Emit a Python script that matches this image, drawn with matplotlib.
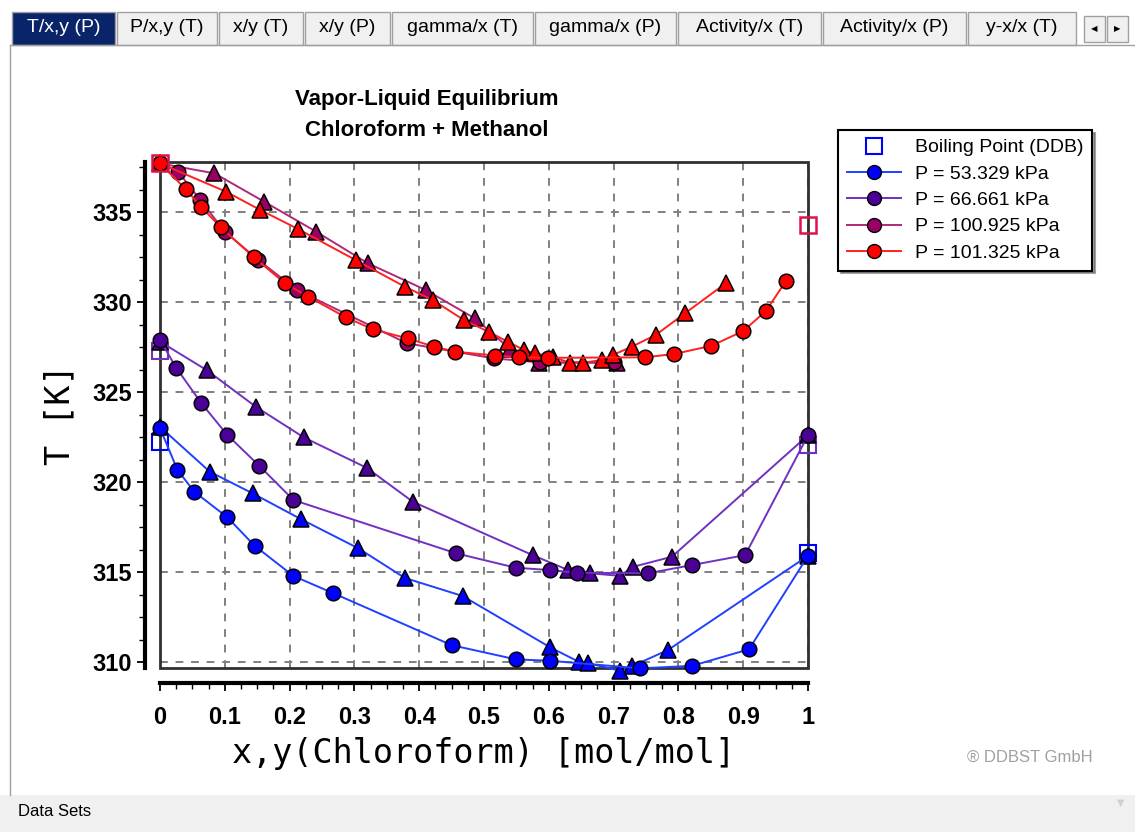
import matplotlib.pyplot as plt
from matplotlib.lines import Line2D
from matplotlib.patches import Rectangle
from matplotlib.ticker import MultipleLocator

# --- data (x,y of chloroform, T in K) ---
# P = 53.329 kPa
x_53 = [0.0, 0.027, 0.053, 0.104, 0.146, 0.206, 0.267, 0.450, 0.549, 0.602, 0.741, 0.821, 0.909, 1.0]
T_53 = [323.0, 320.67, 319.46, 318.04, 316.46, 314.78, 313.83, 310.94, 310.15, 310.07, 309.65, 309.79, 310.71, 315.9]
y_53 = [0.0, 0.077, 0.143, 0.218, 0.306, 0.378, 0.467, 0.602, 0.646, 0.661, 0.710, 0.729, 0.784, 1.0]
Ty_53 = [323.07, 320.57, 319.37, 317.93, 316.32, 314.67, 313.67, 310.82, 310.02, 309.93, 309.52, 309.78, 310.67, 315.9]

# P = 66.661 kPa
x_66 = [0.0, 0.025, 0.064, 0.104, 0.153, 0.206, 0.457, 0.549, 0.602, 0.643, 0.753, 0.821, 0.903, 1.0]
T_66 = [327.9, 326.35, 324.37, 322.61, 320.91, 319.0, 316.04, 315.24, 315.11, 314.96, 314.93, 315.39, 315.94, 322.6]
y_66 = [0.0, 0.072, 0.148, 0.222, 0.319, 0.390, 0.575, 0.630, 0.664, 0.710, 0.730, 0.790, 1.0]
Ty_66 = [327.8, 326.22, 324.18, 322.48, 320.79, 318.91, 315.94, 315.11, 314.93, 314.79, 315.29, 315.85, 322.6]

# P = 100.925 kPa
x_100 = [0.0, 0.028, 0.062, 0.100, 0.152, 0.211, 0.381, 0.515, 0.586, 0.700]
T_100 = [337.7, 337.24, 335.67, 333.91, 332.33, 330.67, 327.71, 326.87, 326.65, 326.65]
y_100 = [0.0, 0.084, 0.161, 0.241, 0.321, 0.410, 0.486, 0.540, 0.585, 0.705]
Ty_100 = [337.7, 337.15, 335.57, 333.91, 332.15, 330.67, 329.09, 327.4, 326.63, 326.63]

# P = 101.325 kPa
x_101 = [0.0, 0.040, 0.064, 0.094, 0.145, 0.193, 0.229, 0.287, 0.329, 0.382, 0.423, 0.456,
         0.517, 0.554, 0.599, 0.748, 0.793, 0.851, 0.900, 0.935, 0.966]
T_101 = [337.7, 336.26, 335.26, 334.15, 332.48, 331.04, 330.29, 329.15, 328.48, 327.98, 327.52, 327.24,
         327.03, 326.93, 326.9, 326.93, 327.11, 327.57, 328.39, 329.5, 331.17]
y_101 = [0.0, 0.102, 0.155, 0.213, 0.302, 0.378, 0.421, 0.469, 0.507, 0.537, 0.562, 0.579, 0.607,
         0.633, 0.653, 0.682, 0.699, 0.728, 0.765, 0.810, 0.873]
Ty_101 = [337.7, 336.13, 335.11, 334.06, 332.33, 330.85, 330.11, 329.0, 328.35, 327.79, 327.33, 327.15, 326.93,
          326.63, 326.63, 326.78, 327.06, 327.52, 328.17, 329.37, 331.04]

# DDB boiling points of the pure components
bp_x = [0.0, 1.0]
bp_53 = [322.2, 316.05]
bp_66 = [327.3, 322.05]
bp_101 = [337.7, 334.3]

labels = ["P = 53.329 kPa", "P = 66.661 kPa", "P = 100.925 kPa", "P = 101.325 kPa"]
xticks = [0.0, 0.1, 0.2, 0.3, 0.4, 0.5, 0.6, 0.7, 0.8, 0.9, 1.0]
xticklabels = ["0", "0.1", "0.2", "0.3", "0.4", "0.5", "0.6", "0.7", "0.8", "0.9", "1"]
yticks = [310, 315, 320, 325, 330, 335]
tabs = ["T/x,y (P)", "P/x,y (T)", "x/y (T)", "x/y (P)", "gamma/x (T)", "gamma/x (P)",
        "Activity/x (T)", "Activity/x (P)", "y-x/x (T)"]

W, H = 1135, 832
fig = plt.figure(figsize=(W / 100, H / 100), dpi=100)
fig.patch.set_facecolor("white")


def fx(px):
    return px / W


def fy(py):
    return 1 - py / H


# window chrome: tab bar
tab_edges = [12, 117, 219, 305, 392, 535, 678, 823, 968, 1078]
for i, name in enumerate(tabs):
    x0, x1 = tab_edges[i], tab_edges[i + 1]
    sel = i == 0
    fig.patches.append(Rectangle((fx(x0), fy(45)), fx(x1 - x0 - 2), 33 / H, transform=fig.transFigure,
                                 fc="#0A246A" if sel else "#F0F0F0", ec="#A0A0A0", lw=1))
    fig.text(fx((x0 + x1 - 2) / 2), fy(28), name, ha="center", va="center", fontsize=14,
             color="white" if sel else "black", family=["Liberation Sans Narrow", "Liberation Sans"])
for k, arr in enumerate(["\u25c0", "\u25b6"]):
    fig.patches.append(Rectangle((fx(1084 + k * 23), fy(42)), fx(21), 26 / H, transform=fig.transFigure,
                                 fc="#F0F0F0", ec="#A0A0A0", lw=1))
    fig.text(fx(1094 + k * 23), fy(29), arr, ha="center", va="center", fontsize=6)
fig.lines.append(Line2D([fx(10), fx(1135)], [fy(45), fy(45)], transform=fig.transFigure, color="#A0A0A0", lw=1))
fig.lines.append(Line2D([fx(10), fx(10)], [fy(45), fy(795)], transform=fig.transFigure, color="#A0A0A0", lw=1))
fig.patches.append(Rectangle((0, 0), 1, 37 / H, transform=fig.transFigure, fc="#F0F0F0", ec="none"))
fig.text(fx(18), fy(812), "Data Sets", ha="left", va="center", fontsize=12,
         family=["Liberation Sans Narrow", "Liberation Sans"])
fig.text(fx(1121), fy(803), "\u25bc", ha="center", va="center", fontsize=7, color="#D0D0D0")

# plot
ax = fig.add_axes([fx(160), fy(668), fx(648), 506 / H])

ms = dict(mec="black", mew=1.1, clip_on=False)
ax.plot(bp_x, bp_53, ls="none", marker="s", ms=11, mfc="none", mec="#0000FF", mew=1.5, clip_on=False, zorder=3)
ax.plot(bp_x, bp_66, ls="none", marker="s", ms=11, mfc="none", mec="#7030C0", mew=1.5, clip_on=False, zorder=3)

series = [
    (x_53, T_53, y_53, Ty_53, "#2040FF", "#0000FF"),
    (x_66, T_66, y_66, Ty_66, "#7030C0", "#4B0096"),
    (x_100, T_100, y_100, Ty_100, "#B02878", "#990066"),
    (x_101, T_101, y_101, Ty_101, "#FF2020", "#FF0000"),
]
for xs, Ts, ys, Tys, lc, mc in series:
    ax.plot(ys, Tys, color=lc, lw=1.4, marker="^", ms=12, mfc=mc, zorder=4, **ms)
    ax.plot(xs, Ts, color=lc, lw=1.4, marker="o", ms=10.5, mfc=mc, zorder=4, **ms)

ax.plot(bp_x, bp_101, ls="none", marker="s", ms=11, mfc="none", mec="#E0104A", mew=1.8, clip_on=False, zorder=6)

ax.set_xlim(0, 1)
ax.set_ylim(309.67, 337.78)

# frame + offset axes
for s in ["top", "right"]:
    ax.spines[s].set_visible(False)
ax.add_patch(Rectangle((0, 0), 1, 1, transform=ax.transAxes, fill=False, ec="#303030", lw=2,
                       clip_on=False, zorder=2))
for s in ["left", "bottom"]:
    ax.spines[s].set_position(("outward", 11))
    ax.spines[s].set_linewidth(3)

ax.set_xticks(xticks, xticklabels)
ax.set_yticks(yticks)
ax.xaxis.set_minor_locator(MultipleLocator(0.025))
ax.yaxis.set_minor_locator(MultipleLocator(1.25))
ax.tick_params(which="major", length=6, width=1.3, labelsize=17)
ax.tick_params(which="minor", length=4, width=1)
ax.tick_params(axis="x", pad=10)
ax.tick_params(axis="y", pad=3)
for lab in ax.get_xticklabels() + ax.get_yticklabels():
    lab.set_fontweight("bold")
    lab.set_family("Liberation Sans")

ax.grid(True, which="major", ls=(0, (4, 4)), color="#808080", lw=1.4)

ax.set_xlabel("x,y(Chloroform) [mol/mol]", family="DejaVu Sans Mono", fontsize=24, labelpad=6)
ax.set_ylabel("T [K]", family="DejaVu Sans Mono", fontsize=24, labelpad=12)

fig.text(fx(427), fy(100), "Vapor-Liquid Equilibrium", ha="center", va="center", fontsize=16,
         fontweight="bold", family="Liberation Sans")
fig.text(fx(427), fy(131), "Chloroform + Methanol", ha="center", va="center", fontsize=16,
         fontweight="bold", family="Liberation Sans")

# legend
handles = [Line2D([], [], ls="none", marker="s", ms=11, mfc="none", mec="#0000FF", mew=1.5)]
for (xs, Ts, ys, Tys, lc, mc), lab in zip(series, labels):
    handles.append(Line2D([], [], color=lc, lw=1.4, marker="o", ms=10, mfc=mc, mec="black"))
leg = fig.legend(handles, ["Boiling Point (DDB)"] + labels, loc="upper left",
                 bbox_to_anchor=(fx(838), fy(130)), bbox_transform=fig.transFigure,
                 prop={"family": "Liberation Sans", "size": 14}, frameon=True, fancybox=False,
                 shadow=True, borderaxespad=0, handlelength=2.8, handletextpad=0.7,
                 labelspacing=0.45, borderpad=0.45)
leg.get_frame().set_edgecolor("black")
leg.get_frame().set_linewidth(1.5)

fig.text(fx(1030), fy(757), "\u00ae DDBST GmbH", ha="center", va="center", fontsize=12,
         color="#A0A0A0", family="Liberation Sans")

fig.savefig("out.png", dpi=100)
